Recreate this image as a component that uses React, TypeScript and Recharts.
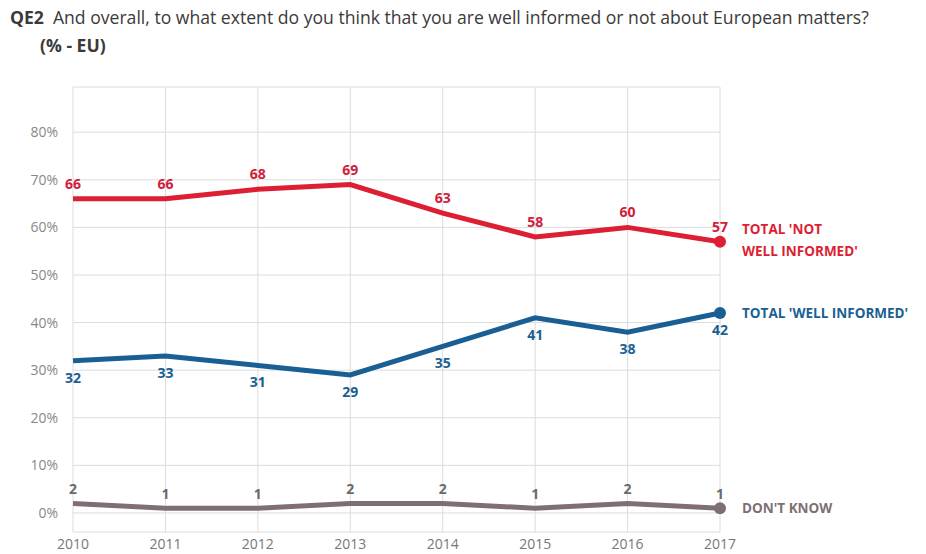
import React from 'react';
import { LineChart, Line, XAxis, YAxis, CartesianGrid, LabelList } from 'recharts';

const years = ['2010', '2011', '2012', '2013', '2014', '2015', '2016', '2017'];
const notWellInformed = [66, 66, 68, 69, 63, 58, 60, 57];
const wellInformed = [32, 33, 31, 29, 35, 41, 38, 42];
const dontKnow = [2, 1, 1, 2, 2, 1, 2, 1];
const yTicks = [0, 10, 20, 30, 40, 50, 60, 70, 80];

const RED = '#dc1f33';
const BLUE = '#1a5f94';
const GREY = '#7d6f74';

const data = years.map((year, i) => ({
  year,
  notWell: notWellInformed[i],
  well: wellInformed[i],
  dk: dontKnow[i],
}));

const FONT = '"Open Sans", "DejaVu Sans", sans-serif';

// end-of-line dot plus series name, only on the last point
function endDot(color: string, lines: string[], dy: number) {
  return (props: any) => {
    const { cx, cy, index } = props;
    if (index !== years.length - 1) return <g key={`d${index}`} />;
    return (
      <g key={`d${index}`}>
        <circle cx={cx} cy={cy} r={6} fill={color} />
        <text x={cx + 22} y={cy + dy} fill={color} fontSize={13.5} fontWeight={700} fontFamily={FONT}>
          {lines.map((l, k) => (
            <tspan key={k} x={cx + 22} dy={k === 0 ? 0 : 22}>
              {l}
            </tspan>
          ))}
        </text>
      </g>
    );
  };
}

export default function App() {
  const labelStyle = { fontSize: 14, fontWeight: 700, fontFamily: FONT };
  return (
    <div style={{ position: 'absolute', left: 0, top: 0, width: 926, height: 554, background: '#fff', fontFamily: FONT }}>
      <div style={{ position: 'absolute', left: 10, top: 5, fontSize: 17.6, color: '#3a3a3a', whiteSpace: 'nowrap' }}>
        <span style={{ fontWeight: 700 }}>QE2</span>
        <span style={{ marginLeft: 9 }}>And overall, to what extent do you think that you are well informed or not about European matters?</span>
      </div>
      <div style={{ position: 'absolute', left: 40, top: 33, fontSize: 17.6, fontWeight: 700, color: '#3a3a3a' }}>(% - EU)</div>
      <LineChart
        width={926}
        height={554}
        data={data}
        margin={{ top: 87, right: 206, bottom: 0, left: 13 }}
        style={{ position: 'absolute', left: 0, top: 0 }}
      >
        <CartesianGrid stroke="#dcdcdc" strokeWidth={1} />
        <XAxis
          dataKey="year"
          height={22}
          tickLine={false}
          axisLine={false}
          tickMargin={1}
          tick={{ fill: '#777', fontSize: 14, fontFamily: FONT }}
          interval={0}
        />
        <YAxis
          domain={[-4, 89.5]}
          ticks={yTicks}
          width={60}
          tickLine={false}
          axisLine={false}
          tickMargin={9}
          tickFormatter={(v: number) => `${v}%`}
          tick={{ fill: '#888', fontSize: 14, fontFamily: FONT }}
        />
        <Line
          type="linear"
          dataKey="dk"
          stroke={GREY}
          strokeWidth={5}
          dot={endDot(GREY, ["DON'T KNOW"], 5)}
          activeDot={false}
          isAnimationActive={false}
        >
          <LabelList dataKey="dk" position="top" offset={9} fill="#6a6a6a" style={labelStyle} />
        </Line>
        <Line
          type="linear"
          dataKey="well"
          stroke={BLUE}
          strokeWidth={5}
          dot={endDot(BLUE, ["TOTAL 'WELL INFORMED'"], 5)}
          activeDot={false}
          isAnimationActive={false}
        >
          <LabelList dataKey="well" position="bottom" offset={12} fill={BLUE} style={labelStyle} />
        </Line>
        <Line
          type="linear"
          dataKey="notWell"
          stroke={RED}
          strokeWidth={5}
          dot={endDot(RED, ["TOTAL 'NOT", "WELL INFORMED'"], -8)}
          activeDot={false}
          isAnimationActive={false}
        >
          <LabelList dataKey="notWell" position="top" offset={10} fill="#d0203a" style={labelStyle} />
        </Line>
      </LineChart>
    </div>
  );
}
